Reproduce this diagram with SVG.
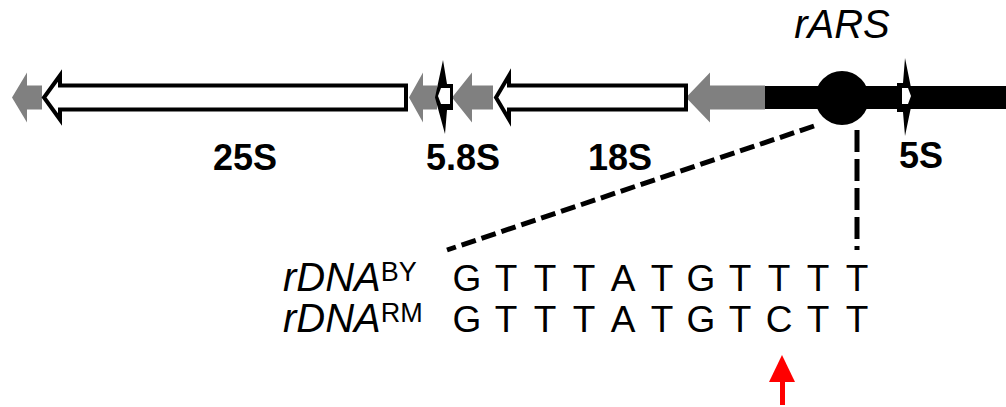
<svg xmlns="http://www.w3.org/2000/svg" width="1006" height="407" viewBox="0 0 1006 407">
<style>
.gray{fill:#808080;stroke:none}
.gene{fill:#fff;stroke:#000;stroke-width:4;stroke-linejoin:miter;stroke-miterlimit:10}
.lbl{font-family:"Liberation Sans",Arial,sans-serif;font-weight:bold;font-size:36px;fill:#000;text-anchor:middle}
.it{font-family:"Liberation Sans",Arial,sans-serif;font-style:italic;font-size:40px;fill:#000}
.sup{font-style:normal;font-size:27px}
.seq{font-family:"Liberation Sans",Arial,sans-serif;font-size:37px;fill:#000;text-anchor:middle}
.dash{stroke:#000;stroke-width:5;fill:none}
</style>
<rect width="1006" height="407" fill="#fff"/>
<g id="bar">
<rect x="765" y="86" width="241" height="23" fill="#000"/>
</g>
<g id="gray-elements">
<polygon class="gray" points="12,97.5 27,72.5 27,85.5 42,85.5 42,109.5 27,109.5 27,122.5"/>
<polygon class="gray" points="409,97.5 423,72.5 423,85.5 437,85.5 437,109.5 423,109.5 423,122.5"/>
<polygon class="gray" points="452,97.5 472,72.5 472,85.5 493,85.5 493,109.5 472,109.5 472,122.5"/>
<polygon class="gray" points="686,97.5 710,72.5 710,85.5 765,85.5 765,109.5 710,109.5 710,122.5"/>
</g>
<g id="gene-25S">
<path class="gene" d="M44,97.5 L60,75.5 L60,85.5 L406,85.5 L406,109.5 L60,109.5 L60,119.5 Z"/>
<text class="lbl" x="245" y="170">25S</text>
</g>
<g id="gene-5.8S">
<polygon fill="#000" points="435,97.5 443,60 447,84 453,84 453,110 447,110 445,134"/>
<polygon fill="#fff" points="438,96 441,88 450,88 450,104 441,104"/>
<text class="lbl" x="463" y="170">5.8S</text>
</g>
<g id="gene-18S">
<path class="gene" d="M496,97.5 L509,75.5 L509,85.5 L686,85.5 L686,109.5 L509,109.5 L509,119.5 Z"/>
<text class="lbl" x="620" y="170">18S</text>
</g>
<g id="rARS">
<circle cx="842" cy="98" r="27" fill="#000"/>
<text class="it" x="842" y="38" text-anchor="middle" font-size="37">rARS</text>
</g>
<g id="gene-5S">
<polygon fill="#000" points="897,83 903,83 905,58 913,97.5 905,136 903,112 897,112"/>
<polygon fill="#fff" points="902,88 908,88 911,96 908,104 902,104"/>
<text class="lbl" x="921" y="168">5S</text>
</g>
<g id="connectors">
<line class="dash" x1="814" y1="126" x2="447" y2="250" stroke-dasharray="15 6"/>
<line class="dash" x1="857" y1="130" x2="857" y2="250" stroke-dasharray="22 7"/>
</g>
<g id="seq-BY">
<text class="it" x="283" y="291">rDNA<tspan class="sup" dy="-10">BY</tspan></text>
<text class="seq" y="291"><tspan x="467">G</tspan><tspan x="506">T</tspan><tspan x="545">T</tspan><tspan x="584">T</tspan><tspan x="623">A</tspan><tspan x="662">T</tspan><tspan x="701">G</tspan><tspan x="740">T</tspan><tspan x="779">T</tspan><tspan x="818">T</tspan><tspan x="857">T</tspan></text>
</g>
<g id="seq-RM">
<text class="it" x="283" y="332">rDNA<tspan class="sup" dy="-10">RM</tspan></text>
<text class="seq" y="332"><tspan x="467">G</tspan><tspan x="506">T</tspan><tspan x="545">T</tspan><tspan x="584">T</tspan><tspan x="623">A</tspan><tspan x="662">T</tspan><tspan x="701">G</tspan><tspan x="740">T</tspan><tspan x="779">C</tspan><tspan x="818">T</tspan><tspan x="857">T</tspan></text>
</g>
<g id="snp-arrow">
<polygon fill="#f00" points="782,355 795,382 769,382"/>
<rect x="780" y="381" width="5" height="24" fill="#f00"/>
</g>
</svg>
